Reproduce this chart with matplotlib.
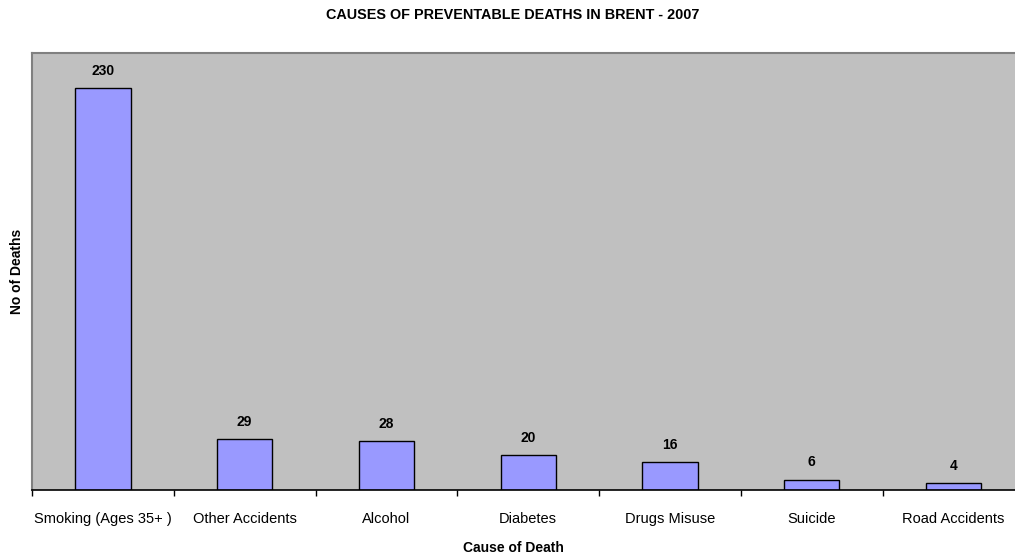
import matplotlib.pyplot as plt
import numpy as np

plt.rcParams['font.family'] = ['Liberation Sans', 'DejaVu Sans']

# Mortes evitáveis por causa
causes = ["Smoking (Ages 35+ )", "Other Accidents", "Alcohol", "Diabetes",
          "Drugs Misuse", "Suicide", "Road Accidents"]
deaths = [230, 29, 28, 20, 16, 6, 4]

W, H = 1015, 560
fig = plt.figure(figsize=(W / 100, H / 100), dpi=100)
ax = fig.add_axes([32 / W, 1 - 490 / H, (1024.5 - 32) / W, (490 - 53) / H])
ax.set_facecolor("#C0C0C0")

x = np.arange(len(causes))
bars = ax.bar(x, deaths, width=0.39, color="#9999FF", edgecolor="black", linewidth=1)

for xi, v in zip(x, deaths):
    ax.annotate(str(v), (xi, v), xytext=(0, 12.5), textcoords="offset points",
                ha="center", va="center", fontsize=10, fontweight="bold")

ax.set_xlim(-0.5, len(causes) - 0.5)
ax.set_ylim(0, 250)
ax.set_yticks([])

# ticks nas divisões entre categorias, rótulos no centro
ax.set_xticks(np.arange(len(causes) + 1) - 0.5)
ax.set_xticklabels([])
ax.set_xticks(x, minor=True)
ax.set_xticklabels(causes, minor=True, fontsize=10.5)
ax.tick_params(axis="x", which="major", direction="out", length=4, width=1)
ax.tick_params(axis="x", which="minor", length=0, pad=16)

for s in ["left", "top"]:
    ax.spines[s].set_color("#808080")
    ax.spines[s].set_linewidth(1.5)
ax.spines["right"].set_visible(False)
ax.spines["bottom"].set_color("black")
ax.spines["bottom"].set_linewidth(1.2)

fig.text(513 / W, 1 - 15 / H, "CAUSES OF PREVENTABLE DEATHS IN BRENT - 2007",
         ha="center", va="center", fontsize=10.4, fontweight="bold")
fig.text(513 / W, 1 - 548 / H, "Cause of Death", ha="center", va="center",
         fontsize=10, fontweight="bold")
fig.text(17 / W, 1 - 271 / H, "No of Deaths", ha="center", va="center",
         rotation=90, fontsize=10, fontweight="bold")

plt.savefig("out.png", dpi=100)
plt.close()
